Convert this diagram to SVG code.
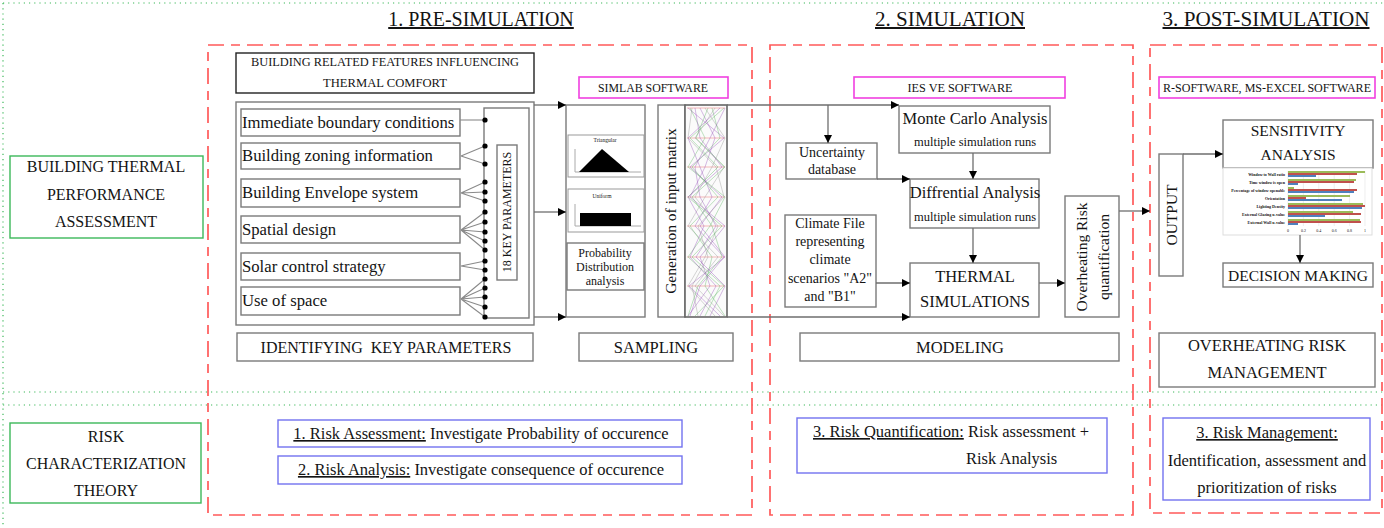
<svg xmlns="http://www.w3.org/2000/svg" width="1384" height="528" viewBox="0 0 1384 528">
<style>
text{font-family:"Liberation Serif","Times New Roman",serif;fill:#141414}
.c{text-anchor:middle}
.box{fill:#fff;stroke:#7a7a7a;stroke-width:1.4}
.red{fill:none;stroke:#ff5a5a;stroke-width:1.7;stroke-dasharray:16 7 9 7}
.grn{fill:#fff;stroke:#3cb85a;stroke-width:1.4}
.mag{fill:#fff;stroke:#f040e0;stroke-width:1.6}
.blu{fill:#fff;stroke:#7272f0;stroke-width:1.4}
.dotl{stroke:#3cb85a;stroke-width:1.2;stroke-dasharray:1.2 4;fill:none}
.conn{stroke:#6e6e6e;stroke-width:1.3;fill:none}
.arr{marker-end:url(#ah)}
.fan{stroke:#8a8a8a;stroke-width:1.1;fill:none}
.ul{text-decoration:underline}
.mx{fill:none;stroke-width:0.8;opacity:0.45}
</style>
<defs>
<marker id="ah" viewBox="0 0 10 10" refX="10" refY="5" markerWidth="8" markerHeight="8" markerUnits="userSpaceOnUse" orient="auto"><path d="M0,0L10,5L0,10z" fill="#000"/></marker>
</defs>

<g id="background-guides">
<line class="dotl" x1="3" y1="3" x2="1384" y2="3"/>
<line class="dotl" x1="3" y1="3" x2="3" y2="528"/>
<line class="dotl" x1="3" y1="392" x2="1384" y2="392"/>
<line class="dotl" x1="3" y1="405" x2="1384" y2="405"/>
</g>

<g id="phase-frames">
<rect class="red" x="208" y="45" width="544" height="470"/>
<rect class="red" x="770" y="45" width="363" height="470"/>
<rect class="red" x="1150" y="45" width="232" height="468"/>
</g>

<g id="titles">
<text class="c ul" x="481" y="26" font-size="20">1. PRE-SIMULATION</text>
<text class="c ul" x="950" y="26" font-size="20" textLength="150" lengthAdjust="spacingAndGlyphs">2. SIMULATION</text>
<text class="c ul" x="1266" y="26" font-size="20" textLength="207" lengthAdjust="spacingAndGlyphs">3. POST-SIMULATION</text>
</g>

<g id="building-thermal-performance">
<rect class="grn" x="10" y="156" width="193" height="82"/>
<text class="c" x="106" y="172" font-size="16">BUILDING THERMAL</text>
<text class="c" x="106" y="200" font-size="16">PERFORMANCE</text>
<text class="c" x="106" y="227" font-size="16">ASSESSMENT</text>
</g>
<g id="risk-characterization">
<rect class="grn" x="10" y="423" width="191" height="80"/>
<text class="c" x="106" y="442" font-size="16">RISK</text>
<text class="c" x="106" y="469" font-size="16">CHARACTERIZATION</text>
<text class="c" x="106" y="496" font-size="16">THEORY</text>
</g>

<g id="building-features">
<rect class="box" x="236" y="53" width="298" height="40" style="stroke:#222"/>
<text class="c" x="385" y="66" font-size="12" textLength="268" lengthAdjust="spacingAndGlyphs">BUILDING RELATED FEATURES INFLUENCING</text>
<text class="c" x="385" y="87" font-size="12" textLength="124" lengthAdjust="spacingAndGlyphs">THERMAL COMFORT</text>
</g>

<g id="parameters-panel">
<rect class="box" x="236" y="102" width="298" height="223"/>
<rect class="box" x="241" y="109" width="219" height="27"/>
<text x="242" y="128" font-size="16.7">Immediate boundary conditions</text>
<rect class="box" x="241" y="143" width="219" height="26"/>
<text x="242" y="161" font-size="16.7">Building zoning information</text>
<rect class="box" x="241" y="179" width="219" height="28"/>
<text x="242" y="198" font-size="16.7">Building Envelope system</text>
<rect class="box" x="241" y="216" width="219" height="27"/>
<text x="242" y="235" font-size="16.7">Spatial design</text>
<rect class="box" x="241" y="253" width="219" height="27"/>
<text x="242" y="272" font-size="16.7">Solar control strategy</text>
<rect class="box" x="241" y="287" width="219" height="28"/>
<text x="242" y="306" font-size="16.7">Use of space</text>
<rect class="box" x="484" y="108" width="45" height="210"/>
<rect class="box" x="497" y="145" width="20" height="135"/>
<text class="c" transform="translate(511,212) rotate(-90)" font-size="12">18 KEY PARAMETERS</text>
<g id="key-fans">
<line class="fan" x1="460" y1="120" x2="485" y2="120"/>
<path class="fan" d="M461,156L485,146M461,156L485,164"/>
<path class="fan" d="M461,193L485,182M461,193L485,192M461,193L485,201"/>
<path class="fan" d="M461,230L485,212M461,230L485,222M461,230L485,232M461,230L485,241M461,230L485,250"/>
<path class="fan" d="M461,266L485,261M461,266L485,270"/>
<path class="fan" d="M461,299L485,279M461,299L485,288M461,299L485,297M461,299L485,307M461,299L485,317"/>
</g>
<g id="key-dots" fill="#000">
<circle cx="485" cy="120" r="2.6"/><circle cx="485" cy="146" r="2.6"/><circle cx="485" cy="164" r="2.6"/>
<circle cx="485" cy="182" r="2.6"/><circle cx="485" cy="192" r="2.6"/><circle cx="485" cy="201" r="2.6"/>
<circle cx="485" cy="212" r="2.6"/><circle cx="485" cy="222" r="2.6"/><circle cx="485" cy="232" r="2.6"/>
<circle cx="485" cy="241" r="2.6"/><circle cx="485" cy="250" r="2.6"/><circle cx="485" cy="261" r="2.6"/>
<circle cx="485" cy="270" r="2.6"/><circle cx="485" cy="279" r="2.6"/><circle cx="485" cy="288" r="2.6"/>
<circle cx="485" cy="297" r="2.6"/><circle cx="485" cy="307" r="2.6"/><circle cx="485" cy="317" r="2.6"/>
</g>
</g>

<g id="identifying-label">
<rect class="box" x="237" y="333" width="296" height="28"/>
<text class="c" x="386" y="353" font-size="16" xml:space="preserve">IDENTIFYING  KEY PARAMETERS</text>
</g>

<g id="simlab-software">
<rect class="mag" x="579" y="77" width="149" height="21"/>
<text class="c" x="653" y="92" font-size="12" textLength="110" lengthAdjust="spacingAndGlyphs">SIMLAB SOFTWARE</text>
</g>

<g id="sampling-panel">
<rect class="box" x="566" y="105" width="79" height="212"/>
<rect x="568" y="135" width="76" height="42" fill="#fff" stroke="#999" stroke-width="1"/>
<text class="c" x="605" y="142" font-size="5.5">Triangular</text>
<path d="M575,149V172H641" fill="none" stroke="#aaa" stroke-width="1"/>
<path d="M579,172L602,149L629,172z" fill="#000"/>
<rect x="568" y="189" width="76" height="43" fill="#fff" stroke="#999" stroke-width="1"/>
<text class="c" x="602" y="198" font-size="5.5">Uniform</text>
<path d="M575,204V226H641" fill="none" stroke="#aaa" stroke-width="1"/>
<rect x="580" y="213" width="51" height="13" fill="#000"/>
<rect class="box" x="567" y="243" width="77" height="47"/>
<text class="c" x="605" y="257" font-size="12">Probability</text>
<text class="c" x="605" y="271" font-size="12">Distribution</text>
<text class="c" x="605" y="285" font-size="12">analysis</text>
</g>

<g id="input-matrix">
<rect class="box" x="658" y="105" width="27" height="212"/>
<text class="c" transform="translate(676,211) rotate(-90)" font-size="15.5">Generation of input matrix</text>
<rect x="685" y="105" width="42" height="212" fill="#fbfbfb" stroke="#666" stroke-width="1.6"/>
<g stroke="#f08080" stroke-width="0.9" opacity="0.6">
<line x1="687" y1="108" x2="725" y2="108"/><line x1="687" y1="138" x2="725" y2="138"/><line x1="687" y1="167" x2="725" y2="167"/>
<line x1="687" y1="197" x2="725" y2="197"/><line x1="687" y1="226" x2="725" y2="226"/><line x1="687" y1="257" x2="725" y2="257"/>
<line x1="687" y1="286" x2="725" y2="286"/>
</g>
<polyline class="mx" stroke="#8a3fb0" points="688,108 724,138 690,167 722,197 700,226 725,257 689,286 720,316"/>
<polyline class="mx" stroke="#4caf50" points="724,108 690,138 718,167 688,197 722,226 692,257 724,286 695,316"/>
<polyline class="mx" stroke="#8a3fb0" points="700,108 715,138 705,167 690,197 725,226 700,257 710,286 688,316"/>
<polyline class="mx" stroke="#888" points="715,108 695,138 724,167 705,197 688,226 718,257 695,286 724,316"/>
<polyline class="mx" stroke="#4caf50" points="690,108 705,138 688,167 725,197 710,226 688,257 720,286 705,316"/>
<polyline class="mx" stroke="#8a3fb0" points="720,108 688,138 700,167 712,197 695,226 724,257 700,286 690,316"/>
<polyline class="mx" stroke="#888" points="705,108 725,138 712,167 695,197 718,226 705,257 688,286 715,316"/>
<polyline class="mx" stroke="#8a3fb0" points="695,108 700,138 722,167 688,197 704,226 690,257 716,286 700,316"/>
<polyline class="mx" stroke="#4caf50" points="712,108 720,138 692,167 718,197 690,226 712,257 705,286 725,316"/>
<polyline class="mx" stroke="#8a3fb0" points="725,108 710,138 695,167 700,197 716,226 696,257 725,286 710,316"/>
<polyline class="mx" stroke="#888" points="692,108 688,138 716,167 724,197 698,226 708,257 692,286 698,316"/>
<polyline class="mx" stroke="#4caf50" points="708,108 696,138 725,167 692,197 712,226 722,257 698,286 688,316"/>
</g>

<g id="sampling-label">
<rect class="box" x="579" y="333" width="154" height="28"/>
<text class="c" x="656" y="353" font-size="16.5">SAMPLING</text>
</g>

<g id="ies-software">
<rect class="mag" x="854" y="77" width="211" height="21"/>
<text class="c" x="960" y="92" font-size="12" textLength="105" lengthAdjust="spacingAndGlyphs">IES VE SOFTWARE</text>
</g>
<g id="monte-carlo">
<rect class="box" x="899" y="106" width="151" height="47"/>
<text class="c" x="975" y="124" font-size="16.5">Monte Carlo Analysis</text>
<text class="c" x="975" y="146" font-size="11.5" textLength="122" lengthAdjust="spacingAndGlyphs">multiple simulation runs</text>
</g>
<g id="uncertainty-db">
<rect class="box" x="786" y="143" width="91" height="36"/>
<text class="c" x="832" y="157" font-size="14">Uncertainty</text>
<text class="c" x="832" y="174" font-size="14">database</text>
</g>
<g id="differential">
<rect class="box" x="910" y="179" width="129" height="49"/>
<text class="c" x="975" y="198" font-size="16.5">Diffrential Analysis</text>
<text class="c" x="975" y="221" font-size="11.5" textLength="122" lengthAdjust="spacingAndGlyphs">multiple simulation runs</text>
</g>
<g id="climate-file">
<rect class="box" x="785" y="215" width="91" height="92"/>
<text class="c" x="830" y="228" font-size="14">Climate File</text>
<text class="c" x="830" y="246" font-size="14">representing</text>
<text class="c" x="830" y="264" font-size="14">climate</text>
<text class="c" x="830" y="283" font-size="14">scenarios "A2"</text>
<text class="c" x="830" y="301" font-size="14">and "B1"</text>
</g>
<g id="thermal-simulations">
<rect class="box" x="910" y="263" width="129" height="54"/>
<text class="c" x="975" y="282" font-size="16.5">THERMAL</text>
<text class="c" x="975" y="307" font-size="16.5">SIMULATIONS</text>
</g>
<g id="overheating-quant">
<rect class="box" x="1065" y="196" width="54" height="121"/>
<text class="c" transform="translate(1087,257) rotate(-90)" font-size="15.5">Overheating Risk</text>
<text class="c" transform="translate(1109,257) rotate(-90)" font-size="15.5">quantification</text>
</g>
<g id="modeling-label">
<rect class="box" x="800" y="333" width="319" height="28"/>
<text class="c" x="960" y="353" font-size="16.5">MODELING</text>
</g>

<g id="r-software">
<rect class="mag" x="1159" y="77" width="216" height="21"/>
<text class="c" x="1267" y="92" font-size="12" textLength="208" lengthAdjust="spacingAndGlyphs">R-SOFTWARE, MS-EXCEL SOFTWARE</text>
</g>
<g id="output">
<rect class="box" x="1159" y="154" width="24" height="122"/>
<text class="c" transform="translate(1177,215) rotate(-90)" font-size="15.5">OUTPUT</text>
</g>
<g id="sensitivity">
<rect class="box" x="1223" y="120" width="150" height="48"/>
<text class="c" x="1298" y="136" font-size="15.5">SENSITIVITY</text>
<text class="c" x="1298" y="160" font-size="15.5">ANALYSIS</text>
</g>
<g id="sensitivity-chart">
<rect x="1223" y="168" width="149" height="67" fill="#fff" stroke="#ddd" stroke-width="1"/>
<g stroke="#e2e2e2" stroke-width="0.6">
<line x1="1288" y1="171" x2="1288" y2="226"/><line x1="1303.4" y1="171" x2="1303.4" y2="226"/><line x1="1318.8" y1="171" x2="1318.8" y2="226"/>
<line x1="1334.2" y1="171" x2="1334.2" y2="226"/><line x1="1349.6" y1="171" x2="1349.6" y2="226"/><line x1="1365" y1="171" x2="1365" y2="226"/>
</g>
<g font-size="4" font-weight="bold" text-anchor="end">
<text x="1285" y="176">Window to Wall ratio</text>
<text x="1285" y="184">Time window is open</text>
<text x="1285" y="192">Percentage of window openable</text>
<text x="1285" y="200">Orientation</text>
<text x="1285" y="208">Lighting Density</text>
<text x="1285" y="216">External Glazing u-value</text>
<text x="1285" y="224">External Wall u-value</text>
</g>
<g font-size="4" text-anchor="middle">
<text x="1288" y="232">0</text><text x="1303.4" y="232">0.2</text><text x="1318.8" y="232">0.4</text>
<text x="1334.2" y="232">0.6</text><text x="1349.6" y="232">0.8</text><text x="1365" y="232">1</text>
</g>
<g fill="#9bbb59">
<rect x="1288" y="171" width="77" height="2"/><rect x="1288" y="179" width="68" height="2"/><rect x="1288" y="187" width="6" height="2"/>
<rect x="1288" y="195" width="62" height="2"/><rect x="1288" y="203" width="75" height="2"/><rect x="1288" y="211" width="65" height="2"/>
<rect x="1288" y="219" width="72" height="2"/>
</g>
<g fill="#c0504d">
<rect x="1288" y="173" width="69" height="2"/><rect x="1288" y="181" width="66" height="2"/><rect x="1288" y="189" width="69" height="2"/>
<rect x="1288" y="197" width="18" height="2"/><rect x="1288" y="205" width="77" height="2"/><rect x="1288" y="213" width="73" height="2"/>
<rect x="1288" y="221" width="73" height="2"/>
</g>
<g fill="#4f81bd">
<rect x="1288" y="175" width="28" height="2"/><rect x="1288" y="183" width="10" height="2"/><rect x="1288" y="191" width="66" height="2"/>
<rect x="1288" y="199" width="54" height="2"/><rect x="1288" y="207" width="74" height="2"/><rect x="1288" y="215" width="37" height="2"/>
<rect x="1288" y="223" width="10" height="2"/>
</g>
</g>
<g id="decision-making">
<rect class="box" x="1223" y="263" width="150" height="24"/>
<text class="c" x="1298" y="281" font-size="15.5">DECISION MAKING</text>
</g>
<g id="risk-management-label">
<rect class="box" x="1159" y="333" width="216" height="54"/>
<text class="c" x="1267" y="351" font-size="16.5">OVERHEATING RISK</text>
<text class="c" x="1267" y="378" font-size="16.5">MANAGEMENT</text>
</g>

<g id="risk-assessment">
<rect class="blu" x="278" y="420" width="404" height="27"/>
<text class="c" x="481" y="439" font-size="16.5"><tspan class="ul">1. Risk Assessment:</tspan> Investigate Probability of occurence</text>
</g>
<g id="risk-analysis">
<rect class="blu" x="278" y="456" width="404" height="28"/>
<text class="c" x="481" y="475" font-size="16.5"><tspan class="ul">2. Risk Analysis:</tspan> Investigate consequence of occurence</text>
</g>
<g id="risk-quantification">
<rect class="blu" x="797" y="418" width="310" height="55"/>
<text x="813" y="437" font-size="16.5"><tspan class="ul">3. Risk Quantification:</tspan> Risk assessment +</text>
<text x="966" y="464" font-size="16.5">Risk Analysis</text>
</g>
<g id="risk-management">
<rect class="blu" x="1163" y="418" width="207" height="82"/>
<text class="c" x="1267" y="438" font-size="16.5"><tspan class="ul">3. Risk Management:</tspan></text>
<text class="c" x="1267" y="466" font-size="16.5">Identification, assessment and</text>
<text class="c" x="1267" y="493" font-size="16.5">prioritization of risks</text>
</g>

<g id="connectors">
<line class="conn arr" x1="534" y1="105" x2="566" y2="105"/>
<line class="conn arr" x1="534" y1="212" x2="566" y2="212"/>
<line class="conn arr" x1="534" y1="317" x2="566" y2="317"/>
<line class="conn arr" x1="727" y1="105" x2="899" y2="105"/>
<line class="conn arr" x1="828" y1="105" x2="828" y2="143"/>
<line class="conn arr" x1="727" y1="317" x2="910" y2="317"/>
<line class="conn arr" x1="877" y1="179" x2="910" y2="179"/>
<line class="conn arr" x1="973" y1="153" x2="973" y2="179"/>
<line class="conn arr" x1="973" y1="228" x2="973" y2="263"/>
<line class="conn arr" x1="876" y1="283" x2="910" y2="283"/>
<line class="conn arr" x1="1039" y1="283" x2="1065" y2="283"/>
<line class="conn arr" x1="1119" y1="211" x2="1150" y2="211"/>
<line class="conn arr" x1="1183" y1="154" x2="1223" y2="154"/>
<line class="conn arr" x1="1300" y1="235" x2="1300" y2="263"/>
</g>
</svg>
